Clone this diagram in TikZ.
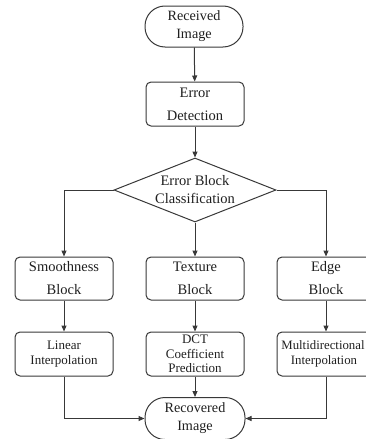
\documentclass[tikz,border=0pt]{standalone}
\usepackage{fontspec}
\setmainfont{Liberation Serif}
\usetikzlibrary{arrows.meta,shapes.geometric}
\definecolor{lc}{gray}{0.22}
\definecolor{tc}{gray}{0.12}
\begin{document}
\begin{tikzpicture}[x=1pt,y=-1pt,
  box/.style={draw=lc, line width=1pt, rounded corners=5pt, minimum width=98pt,
    minimum height=44pt, inner sep=0pt, align=center, text=tc},
  big/.style={font=\fontsize{14.5}{23}\selectfont},
  small/.style={font=\fontsize{13}{14.5}\selectfont},
  term/.style={draw=lc, line width=1pt, rounded corners=20pt, minimum width=98pt,
    minimum height=41pt, inner sep=0pt, align=center, text=tc,
    font=\fontsize{14.2}{18}\selectfont},
  txt/.style={align=center, text=tc, inner sep=0pt, font=\fontsize{14.5}{18}\selectfont},
  ln/.style={draw=lc, line width=1pt},
  arr/.style={ln, -{Triangle[length=6pt,width=5pt]}}
]
\useasboundingbox (0,0) rectangle (366,439);
\clip (0,0) rectangle (366,439);

\node[term] (rec) at (194,26.5) {Received\\Image};
\node[box,big] (det) at (195,104) {Error\\Detection};
\node[draw=lc, line width=1pt, diamond, minimum width=162pt, minimum height=64pt,
  inner sep=0pt, aspect=2.5] (cls) at (195,190) {};
\node[txt] (clsT) at (195,190) {Error Block\\Classification};

\node[box,big,minimum height=43pt] (smooth) at (64,278.5) {Smoothness\\Block};
\node[box,big,minimum height=43pt] (tex) at (195,278.5) {Texture\\Block};
\node[box,big,minimum height=43pt] (edge) at (326,278.5) {Edge\\Block};

\node[box,small] (lin) at (64,354) {Linear\\Interpolation};
\node[box,small] (dct) at (195,354) {DCT\\Coefficient\\Prediction};
\node[box,font=\fontsize{12.8}{14.5}\selectfont] (multi) at (326,354)
  {\hspace*{-6pt}Multidirectional\\\hspace*{-4pt}Interpolation};

\node[term,minimum width=100pt,minimum height=42pt] (out) at (195,418.5) {Recovered\\Image};

\draw[arr] (rec) -- (det);
\draw[arr] (det) -- (cls);
\draw[arr] (cls) -- (tex);
\draw[arr] (cls.west) -| (smooth.north);
\draw[arr] (cls.east) -| (edge.north);
\draw[arr] (smooth) -- (lin);
\draw[arr] (tex) -- (dct);
\draw[arr] (edge) -- (multi);
\draw[arr] (lin.south) |- (out.west);
\draw[arr] (dct) -- (out);
\draw[arr] (multi.south) |- (out.east);
\end{tikzpicture}
\end{document}
